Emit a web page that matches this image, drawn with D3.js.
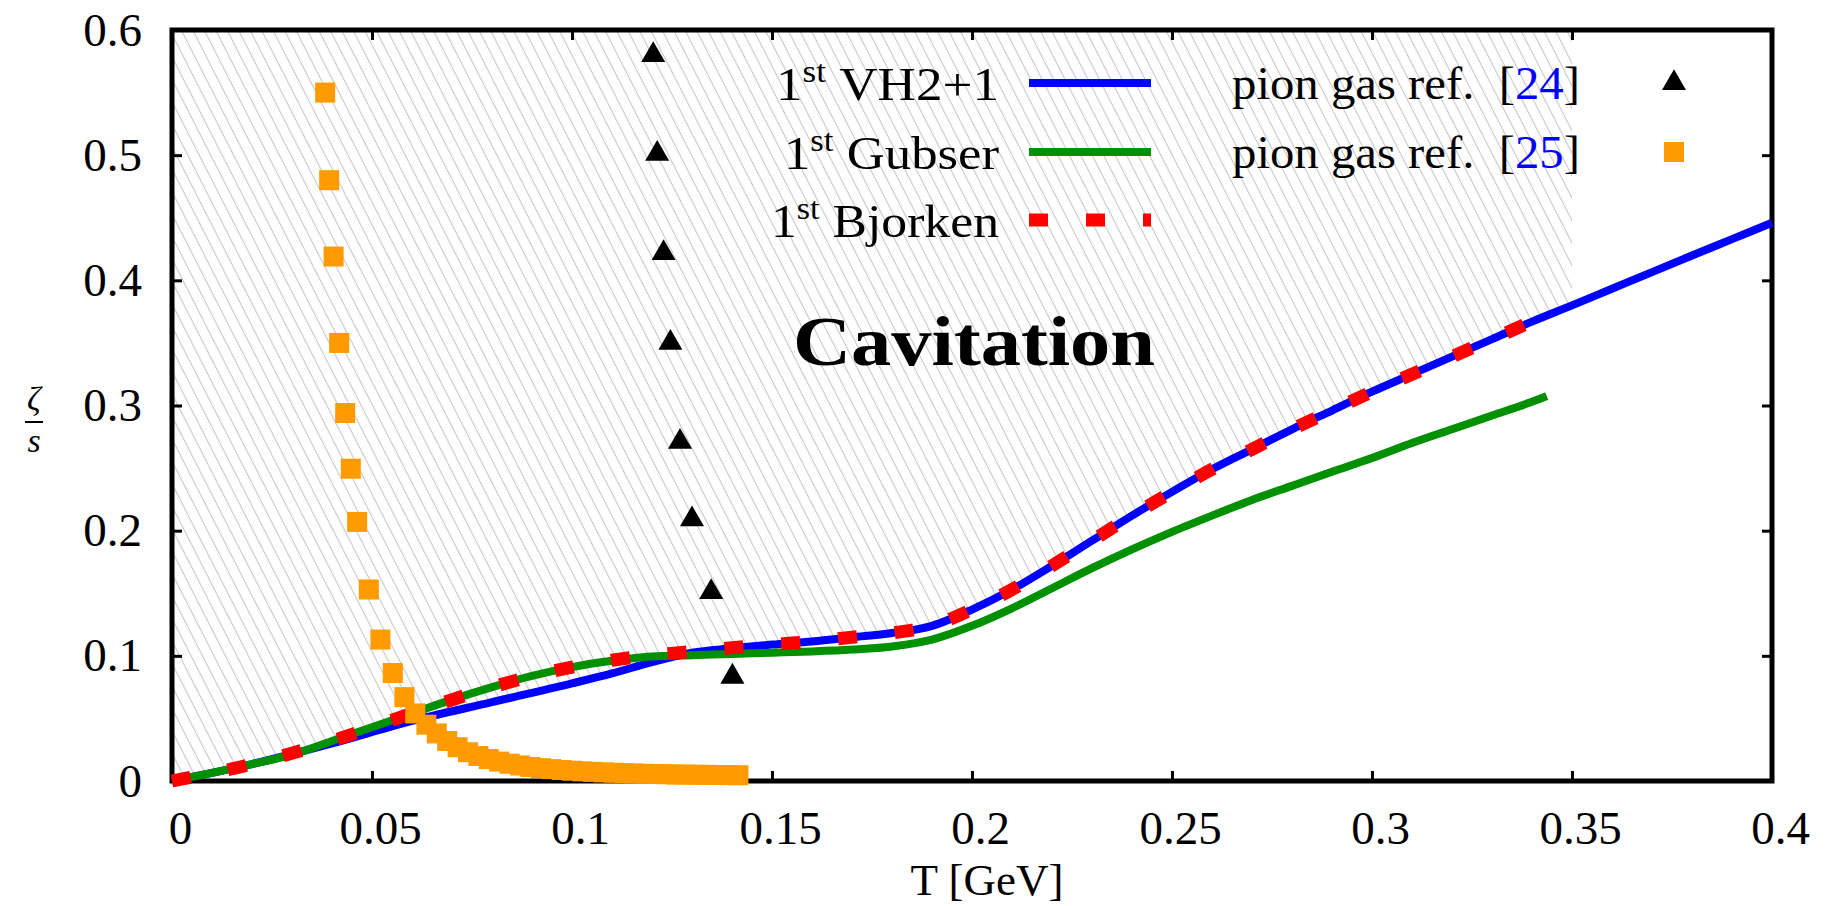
<!DOCTYPE html>
<html><head><meta charset="utf-8">
<script src="https://cdn.jsdelivr.net/npm/d3@7"></script>
<style>
html,body{margin:0;padding:0;background:#fff;}
svg{display:block;}
text{font-family:"Liberation Serif","Times New Roman",serif;fill:#000;}
</style></head><body>
<svg id="chart" width="1825" height="906"></svg>
<script>
// ---------- data ----------
const xTicks = [0, 0.05, 0.1, 0.15, 0.2, 0.25, 0.3, 0.35, 0.4];
const xTickLabels = ["0", "0.05", "0.1", "0.15", "0.2", "0.25", "0.3", "0.35", "0.4"];
const yTicks = [0, 0.1, 0.2, 0.3, 0.4, 0.5, 0.6];
const yTickLabels = ["0", "0.1", "0.2", "0.3", "0.4", "0.5", "0.6"];

// 1st VH2+1 (blue)
const vhT    = [0, 0.02, 0.04, 0.06, 0.08, 0.10, 0.11, 0.12, 0.125, 0.13, 0.14, 0.15, 0.16, 0.17, 0.18, 0.19, 0.20, 0.21, 0.22, 0.23, 0.24, 0.25, 0.26, 0.27, 0.28, 0.29, 0.30, 0.31, 0.32, 0.33, 0.34, 0.35, 0.36, 0.37, 0.38, 0.39, 0.40];
const vhZeta = [0, 0.0135, 0.030, 0.048, 0.063, 0.078, 0.086, 0.095, 0.099, 0.1025, 0.106, 0.109, 0.1115, 0.1148, 0.1182, 0.124, 0.137, 0.153, 0.172, 0.192, 0.212, 0.231, 0.249, 0.265, 0.281, 0.296, 0.311, 0.325, 0.339, 0.353, 0.367, 0.380, 0.3933, 0.4066, 0.4198, 0.4329, 0.446];

// 1st Gubser (green)
const gubT    = [0, 0.01, 0.02, 0.03, 0.04, 0.05, 0.06, 0.07, 0.08, 0.09, 0.10, 0.11, 0.12, 0.13, 0.14, 0.15, 0.16, 0.17, 0.18, 0.19, 0.20, 0.21, 0.22, 0.23, 0.24, 0.25, 0.26, 0.27, 0.28, 0.29, 0.30, 0.31, 0.32, 0.33, 0.34, 0.3437];
const gubZeta = [0, 0.0065, 0.0135, 0.021, 0.032, 0.043, 0.054, 0.065, 0.075, 0.084, 0.091, 0.096, 0.0995, 0.1005, 0.1015, 0.1025, 0.1035, 0.105, 0.1075, 0.113, 0.124, 0.138, 0.154, 0.170, 0.185, 0.199, 0.212, 0.2245, 0.2358, 0.247, 0.258, 0.270, 0.281, 0.292, 0.303, 0.3075];

// 1st Bjorken (red dotted)
const bjT    = [0, 0.02, 0.04, 0.06, 0.08, 0.10, 0.11, 0.12, 0.13, 0.14, 0.15, 0.16, 0.17, 0.18, 0.19, 0.20, 0.21, 0.22, 0.23, 0.24, 0.25, 0.26, 0.27, 0.28, 0.29, 0.30, 0.31, 0.32, 0.33, 0.34, 0.345];
const bjZeta = [0, 0.0135, 0.032, 0.054, 0.075, 0.091, 0.0965, 0.1005, 0.1035, 0.1065, 0.109, 0.1115, 0.1148, 0.1182, 0.124, 0.137, 0.153, 0.172, 0.192, 0.212, 0.231, 0.249, 0.265, 0.281, 0.296, 0.311, 0.325, 0.339, 0.353, 0.367, 0.3735];

// pion gas ref. [24] (black triangles)
const pion24T    = [0.1203, 0.1213, 0.1229, 0.1246, 0.1270, 0.1300, 0.1348, 0.1401];
const pion24Zeta = [0.580, 0.501, 0.4217, 0.350, 0.271, 0.209, 0.151, 0.0833];

// pion gas ref. [25] (orange squares)
const pion25T    = [0.0383, 0.0393, 0.0404, 0.0418, 0.0433, 0.0447, 0.0463, 0.0492, 0.0521, 0.0552, 0.0581, 0.0608,
                    0.0636, 0.0662, 0.0688, 0.0714, 0.0740, 0.0766, 0.0792, 0.0818, 0.0844, 0.0870, 0.0896, 0.0922, 0.0948, 0.0974, 0.1000,
                    0.1026, 0.1052, 0.1078, 0.1104, 0.1130, 0.1156, 0.1182, 0.1208, 0.1234, 0.1260, 0.1286, 0.1312, 0.1338, 0.1364, 0.1390, 0.1416];
const pion25Zeta = [0.550, 0.480, 0.419, 0.350, 0.294, 0.2495, 0.207, 0.153, 0.113, 0.0863, 0.067, 0.054,
                    0.045, 0.038, 0.032, 0.027, 0.023, 0.020, 0.0175, 0.0155, 0.0138, 0.0124, 0.0112, 0.0103, 0.0095, 0.0088, 0.0082,
                    0.0077, 0.0073, 0.0069, 0.0066, 0.0063, 0.0060, 0.0058, 0.0056, 0.0054, 0.0052, 0.0051, 0.0050, 0.0049, 0.0048, 0.0047, 0.0046];

// cavitation (hatched) region: above VH2+1 up to T = 0.35
const hatchTmax = 0.35;
const hatchTop = 0.6;

const colors = {vh: "#0000ff", gub: "#009000", bj: "#ff0000", p24: "#000000", p25: "#ff9a00", ref: "#0000ff"};

// ---------- chart ----------
const svg = d3.select("#chart");
const x = d3.scaleLinear().domain([0, 0.4]).range([172, 1772]);
const y = d3.scaleLinear().domain([0, 0.6]).range([781, 30]);
const FS = 47;
const FONT = '"Liberation Serif","Times New Roman",serif';

const defs = svg.append("defs");
const pat = defs.append("pattern").attr("id", "hatch")
  .attr("patternUnits", "userSpaceOnUse").attr("width", 10.2).attr("height", 40)
  .attr("patternTransform", "rotate(-27)");
pat.append("line").attr("x1", 5.1).attr("y1", -2).attr("x2", 5.1).attr("y2", 42)
  .attr("stroke", "#c6c6c6").attr("stroke-width", 1.1);

// hatched region
const hIdx = vhT.map((t, i) => i).filter(i => vhT[i] <= hatchTmax + 1e-9);
const hatchArea = d3.area()
  .x(i => x(vhT[i])).y0(y(hatchTop)).y1(i => y(vhZeta[i]))
  .curve(d3.curveMonotoneX);
svg.append("path").attr("d", hatchArea(hIdx)).attr("fill", "url(#hatch)");

// axes (ticks inward on all four sides)
function styleAxis(g) {
  g.select(".domain").remove();
  g.selectAll(".tick line").attr("stroke", "#000").attr("stroke-width", 3);
  g.selectAll(".tick text").attr("font-size", FS).attr("font-family", FONT).attr("fill", "#000");
}
const gB = svg.append("g").attr("transform", `translate(0,${y(0)})`)
  .call(d3.axisBottom(x).tickValues(xTicks).tickFormat((d, i) => xTickLabels[i]).tickSize(-10).tickPadding(30));
styleAxis(gB); gB.selectAll(".tick text").attr("x", 8);
const gT = svg.append("g").attr("transform", `translate(0,${y(0.6)})`)
  .call(d3.axisTop(x).tickValues(xTicks).tickFormat("").tickSize(-10));
styleAxis(gT);
const gL = svg.append("g").attr("transform", `translate(${x(0)},0)`)
  .call(d3.axisLeft(y).tickValues(yTicks).tickFormat((d, i) => yTickLabels[i]).tickSize(-10).tickPadding(30));
styleAxis(gL);
const gR = svg.append("g").attr("transform", `translate(${x(0.4)},0)`)
  .call(d3.axisRight(y).tickValues(yTicks).tickFormat("").tickSize(-10));
styleAxis(gR);

// frame
svg.append("rect").attr("x", x(0)).attr("y", y(0.6))
  .attr("width", x(0.4) - x(0)).attr("height", y(0) - y(0.6))
  .attr("fill", "none").attr("stroke", "#000").attr("stroke-width", 5);

// axis titles
svg.append("text").attr("x", 987).attr("y", 895).attr("text-anchor", "middle")
  .attr("font-size", 45).text("T [GeV]");
svg.append("text").attr("x", 34).attr("y", 410).attr("text-anchor", "middle")
  .attr("font-size", 34).attr("font-style", "italic").text("ζ");
svg.append("line").attr("x1", 25).attr("x2", 43).attr("y1", 422).attr("y2", 422)
  .attr("stroke", "#000").attr("stroke-width", 2);
svg.append("text").attr("x", 34).attr("y", 452).attr("text-anchor", "middle")
  .attr("font-size", 34).attr("font-style", "italic").text("s");

// Cavitation label
svg.append("text").attr("x", 793).attr("y", 365).attr("font-size", 70).attr("font-weight", "bold")
  .attr("textLength", 362).attr("lengthAdjust", "spacingAndGlyphs").text("Cavitation");

// legend
const legLeft = [
  {word: "VH2+1", x0: 776, w: 223, cy: 83, key: "vh"},
  {word: "Gubser", x0: 784, w: 215, cy: 152, key: "gub"},
  {word: "Bjorken", x0: 771, w: 228, cy: 220, key: "bj"}
];
legLeft.forEach(d => {
  const t = svg.append("text").attr("x", d.x0).attr("y", d.cy + 17).attr("font-size", FS)
    .attr("textLength", d.w).attr("lengthAdjust", "spacingAndGlyphs");
  t.append("tspan").text("1");
  t.append("tspan").attr("font-size", 31).attr("dy", -18).text("st");
  t.append("tspan").attr("dy", 18).text("\u00a0" + d.word);
});
const lx1 = 1029, lx2 = 1151;
svg.append("line").attr("x1", lx1).attr("x2", lx2).attr("y1", 83).attr("y2", 83)
  .attr("stroke", colors.vh).attr("stroke-width", 8);
svg.append("line").attr("x1", lx1).attr("x2", lx2).attr("y1", 152).attr("y2", 152)
  .attr("stroke", colors.gub).attr("stroke-width", 8);
svg.append("line").attr("x1", lx1).attr("x2", lx2).attr("y1", 220).attr("y2", 220)
  .attr("stroke", colors.bj).attr("stroke-width", 13).attr("stroke-dasharray", "19,38");

const legRight = [{ref: "24", cy: 83}, {ref: "25", cy: 152}];
legRight.forEach(d => {
  const t = svg.append("text").attr("x", 1232).attr("y", d.cy + 16).attr("font-size", FS)
    .attr("textLength", 348).attr("lengthAdjust", "spacingAndGlyphs");
  t.append("tspan").text("pion gas ref.\u00a0\u00a0[");
  t.append("tspan").attr("fill", colors.ref).style("fill", colors.ref).text(d.ref);
  t.append("tspan").text("]");
});
const triSym = d3.symbol().type(d3.symbolTriangle).size(250);
svg.append("path").attr("d", triSym()).attr("transform", "translate(1674,83)").attr("fill", colors.p24);
svg.append("rect").attr("x", 1664).attr("y", 142).attr("width", 20).attr("height", 20).attr("fill", colors.p25);

// curves
const lineOf = (T, Z) => d3.line().x(i => x(T[i])).y(i => y(Z[i])).curve(d3.curveMonotoneX)(T.map((t, i) => i));
svg.append("path").attr("d", lineOf(vhT, vhZeta)).attr("fill", "none")
  .attr("stroke", colors.vh).attr("stroke-width", 8);
svg.append("path").attr("d", lineOf(gubT, gubZeta)).attr("fill", "none")
  .attr("stroke", colors.gub).attr("stroke-width", 8);
svg.append("path").attr("d", lineOf(bjT, bjZeta)).attr("fill", "none")
  .attr("stroke", colors.bj).attr("stroke-width", 13).attr("stroke-dasharray", "19,38");

// points
svg.append("g").selectAll("rect").data(pion25T.map((t, i) => i)).join("rect")
  .attr("x", i => x(pion25T[i]) - 10).attr("y", i => y(pion25Zeta[i]) - 10)
  .attr("width", 20).attr("height", 20).attr("fill", colors.p25);
svg.append("g").selectAll("path").data(pion24T.map((t, i) => i)).join("path")
  .attr("d", triSym()).attr("transform", i => `translate(${x(pion24T[i])},${y(pion24Zeta[i])})`)
  .attr("fill", colors.p24);
</script>
</body></html>
